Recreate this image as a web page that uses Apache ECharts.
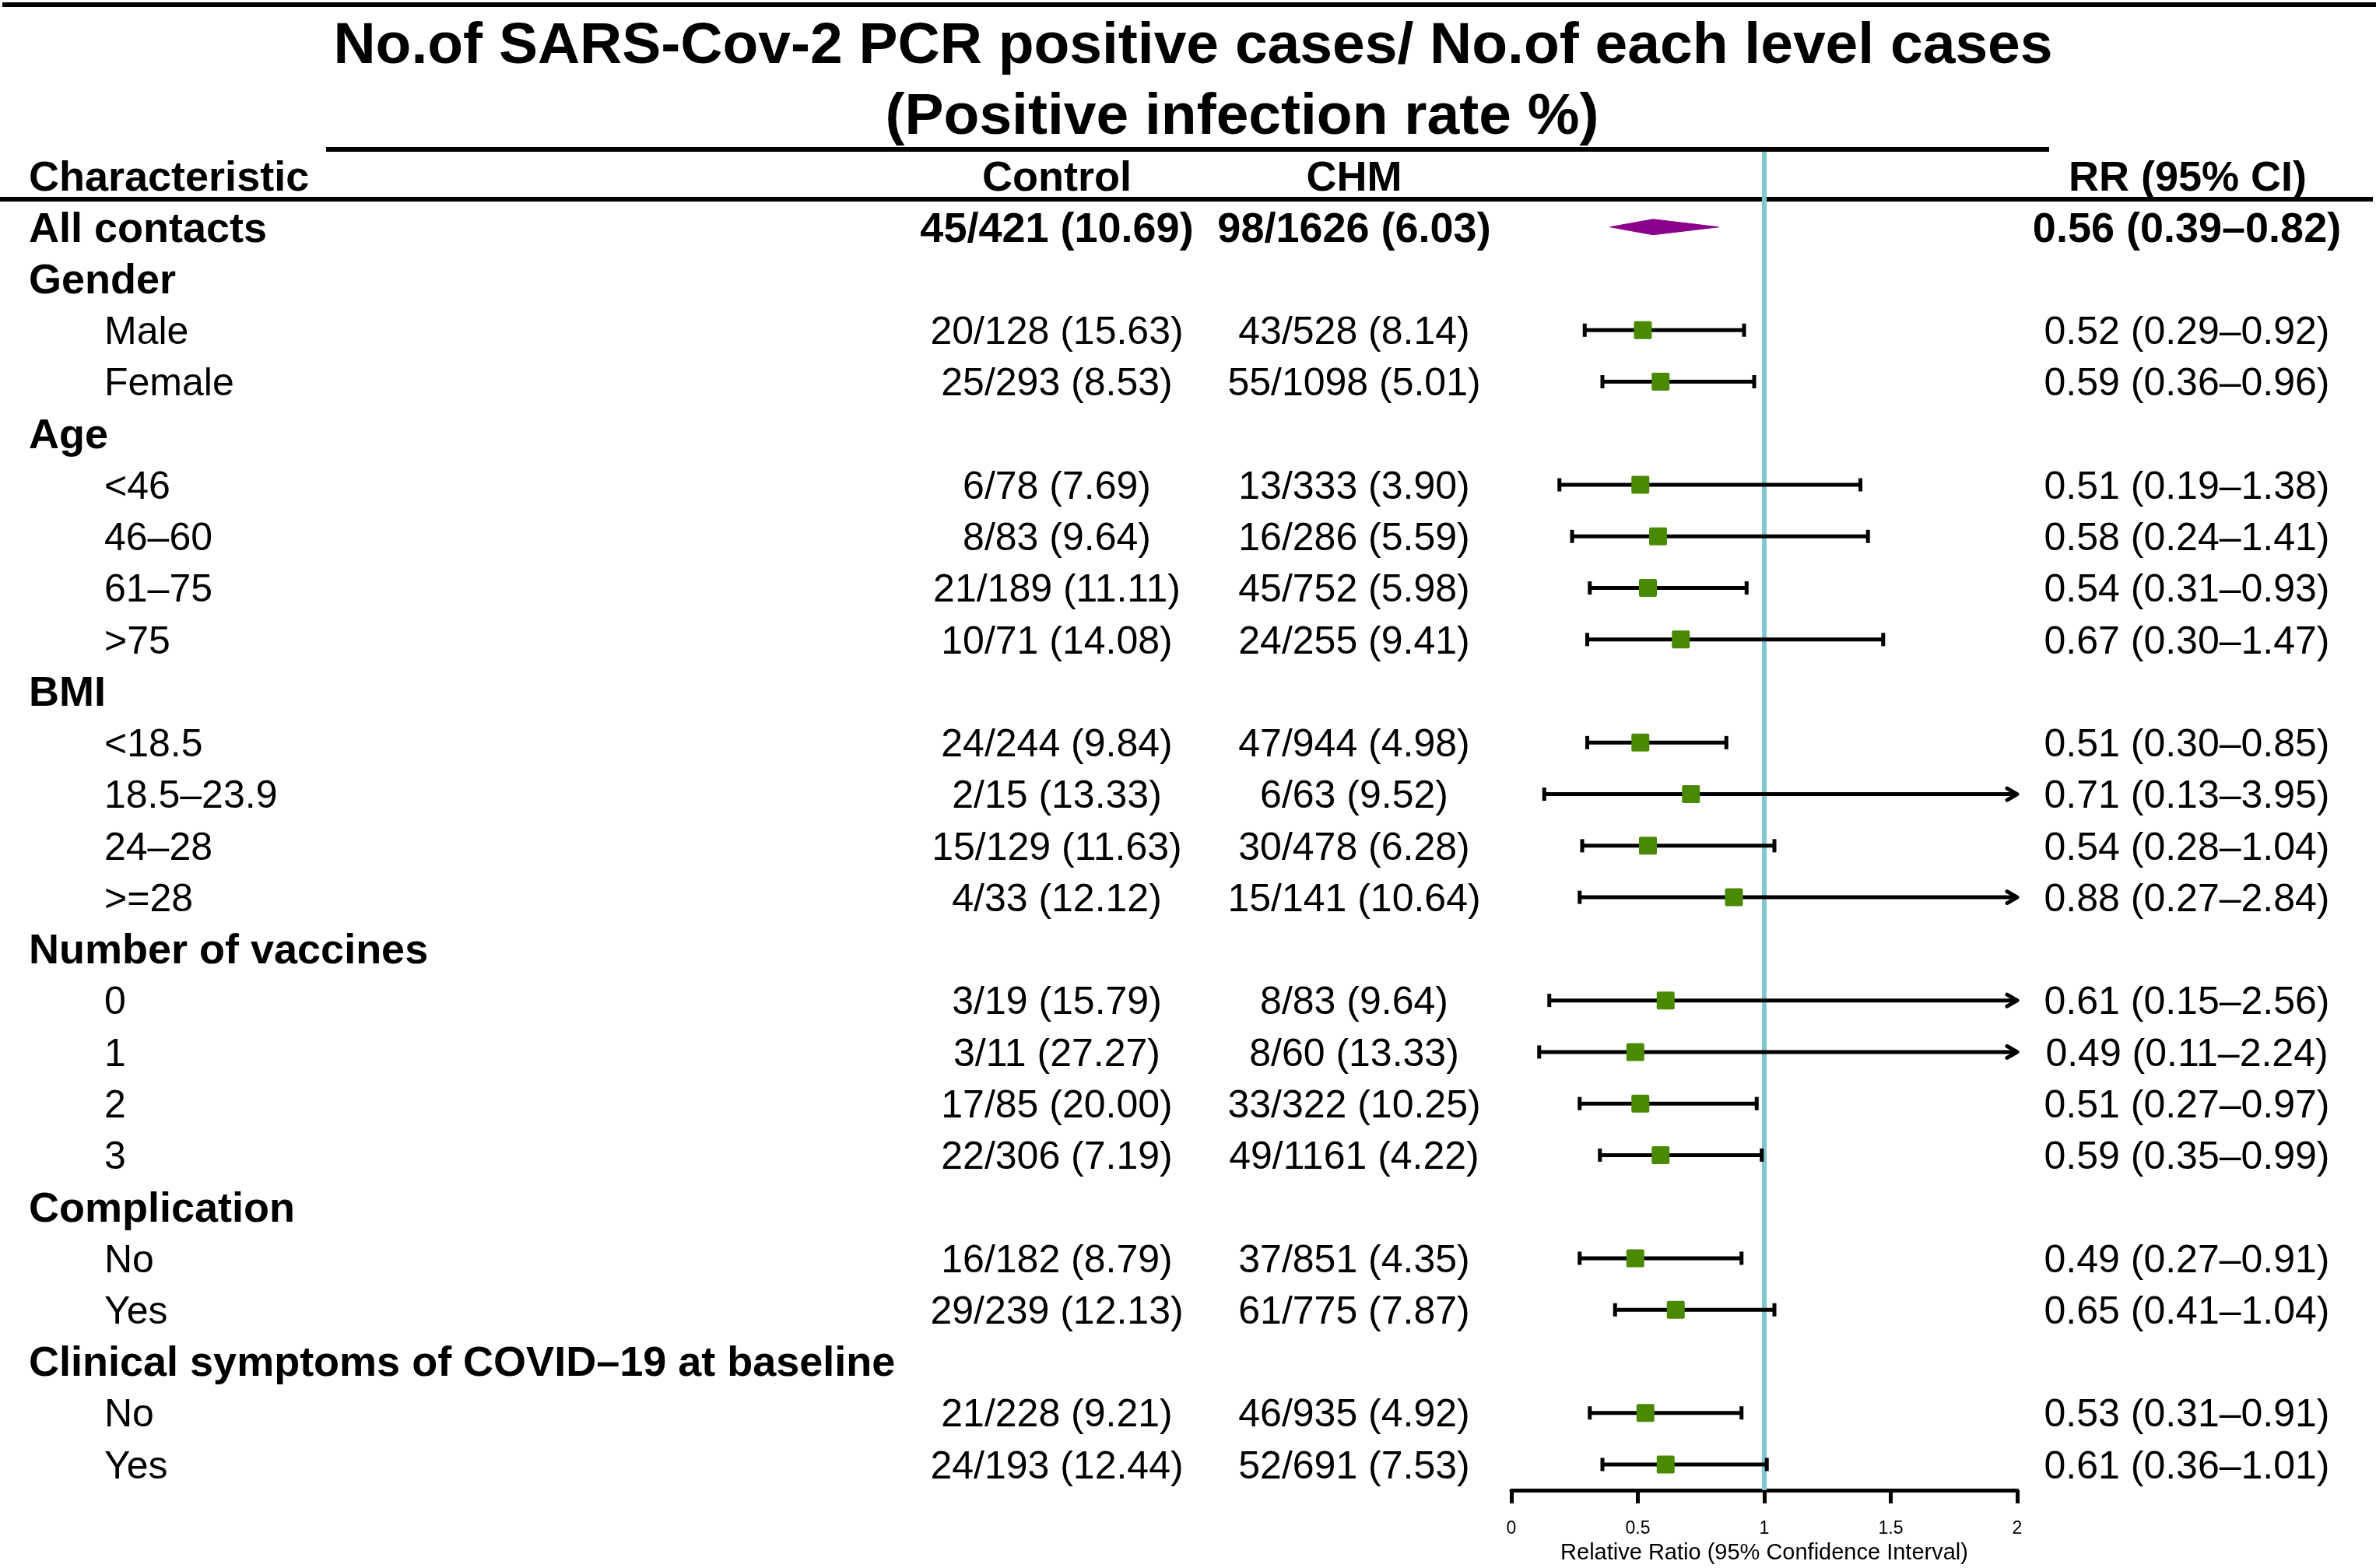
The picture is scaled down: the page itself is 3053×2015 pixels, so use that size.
<!DOCTYPE html>
<html>
<head>
<meta charset="utf-8">
<title>Forest plot</title>
<script src="https://cdn.jsdelivr.net/npm/echarts@6/dist/echarts.min.js"></script>
<style>
  html, body { margin: 0; padding: 0; background: #fff; }
  #chart { width: 3053px; height: 2015px; }
</style>
</head>
<body>
<div id="chart"></div>
<script>
// rows of the table, top to bottom
var characteristic = ['All contacts', 'Gender', 'Male', 'Female', 'Age', '<46', '46–60', '61–75', '>75',
    'BMI', '<18.5', '18.5–23.9', '24–28', '>=28', 'Number of vaccines', '0', '1', '2', '3',
    'Complication', 'No', 'Yes', 'Clinical symptoms of COVID–19 at baseline', 'No', 'Yes'];
var indented = [0, 0, 1, 1, 0, 1, 1, 1, 1, 0, 1, 1, 1, 1, 0, 1, 1, 1, 1, 0, 1, 1, 0, 1, 1];

// control group: positive / total (rate %)
var ctrlPos = [45, null, 20, 25, null, 6, 8, 21, 10, null, 24, 2, 15, 4, null, 3, 3, 17, 22, null, 16, 29, null, 21, 24];
var ctrlTotal = [421, null, 128, 293, null, 78, 83, 189, 71, null, 244, 15, 129, 33, null, 19, 11, 85, 306, null, 182, 239, null, 228, 193];
var ctrlRate = [10.69, null, 15.63, 8.53, null, 7.69, 9.64, 11.11, 14.08, null, 9.84, 13.33, 11.63, 12.12, null, 15.79, 27.27, 20.00, 7.19, null, 8.79, 12.13, null, 9.21, 12.44];

// CHM group
var chmPos = [98, null, 43, 55, null, 13, 16, 45, 24, null, 47, 6, 30, 15, null, 8, 8, 33, 49, null, 37, 61, null, 46, 52];
var chmTotal = [1626, null, 528, 1098, null, 333, 286, 752, 255, null, 944, 63, 478, 141, null, 83, 60, 322, 1161, null, 851, 775, null, 935, 691];
var chmRate = [6.03, null, 8.14, 5.01, null, 3.90, 5.59, 5.98, 9.41, null, 4.98, 9.52, 6.28, 10.64, null, 9.64, 13.33, 10.25, 4.22, null, 4.35, 7.87, null, 4.92, 7.53];

// relative ratio and 95% CI
var rr = [0.56, null, 0.52, 0.59, null, 0.51, 0.58, 0.54, 0.67, null, 0.51, 0.71, 0.54, 0.88, null, 0.61, 0.49, 0.51, 0.59, null, 0.49, 0.65, null, 0.53, 0.61];
var rrLow = [0.39, null, 0.29, 0.36, null, 0.19, 0.24, 0.31, 0.30, null, 0.30, 0.13, 0.28, 0.27, null, 0.15, 0.11, 0.27, 0.35, null, 0.27, 0.41, null, 0.31, 0.36];
var rrHigh = [0.82, null, 0.92, 0.96, null, 1.38, 1.41, 0.93, 1.47, null, 0.85, 3.95, 1.04, 2.84, null, 2.56, 2.24, 0.97, 0.99, null, 0.91, 1.04, null, 0.91, 1.01];

var xTicks = [0, 0.5, 1, 1.5, 2];
var xMax = 2;

var FONT = "'Liberation Sans', Arial, Helvetica, sans-serif";
var GREEN = '#4a8a02';
var PURPLE = '#8b008b';
var CYAN = '#80c7d0';
var TEXT_DY = 4; // canvas 'middle' sits a bit above cap centre

var chart = echarts.init(document.getElementById('chart'), null, {width: 3053, height: 2015});

function fmtCases(p, t, r) {
    return p == null ? '' : p + '/' + t + ' (' + r.toFixed(2) + ')';
}

function headText(text, x, y, align, size) {
    return {
        type: 'text',
        style: {text: text, x: x, y: y + TEXT_DY, align: align, verticalAlign: 'middle',
            fontSize: size, fontWeight: 'bold', fontFamily: FONT, fill: '#000'}
    };
}

// table text, one item per row
var tableData = characteristic.map(function (c, i) { return [0, i]; });
// forest marks only for rows that have an estimate
var forestData = [];
rr.forEach(function (v, i) {
    if (v != null) forestData.push([v, i, rrLow[i], rrHigh[i], i === 0 ? 1 : 0]);
});

function renderTable(params, api) {
    var i = api.value(1);
    var y = api.coord([0, i])[1] + TEXT_DY;
    var isBold = i === 0 || !indented[i];
    var size = isBold ? 54 : 50;
    var weight = isBold ? 'bold' : 'normal';
    var cells = [
        {x: indented[i] ? 134 : 37, align: 'left', text: characteristic[i]},
        {x: 1358, align: 'center', text: fmtCases(ctrlPos[i], ctrlTotal[i], ctrlRate[i])},
        {x: 1740, align: 'center', text: fmtCases(chmPos[i], chmTotal[i], chmRate[i])},
        {x: 2810, align: 'center', text: rr[i] == null ? '' : rr[i].toFixed(2) + ' (' + rrLow[i].toFixed(2) + '–' + rrHigh[i].toFixed(2) + ')'}
    ];
    return {
        type: 'group',
        children: cells.map(function (c) {
            return {
                type: 'text',
                style: {
                    text: c.text, x: c.x, y: y, align: c.align, verticalAlign: 'middle',
                    fontSize: size, fontWeight: weight, fontFamily: FONT, fill: '#000'
                }
            };
        })
    };
}

function renderForest(params, api) {
    var est = api.value(0), row = api.value(1), lo = api.value(2), hi = api.value(3);
    var pc = api.coord([est, row]);
    var pl = api.coord([lo, row]);
    var ph = api.coord([Math.min(hi, xMax), row]);
    var y = pc[1];
    if (api.value(4) === 1) {
        // summary diamond
        return {
            type: 'polygon',
            shape: {points: [[pl[0], y], [pc[0], y - 10], [ph[0], y], [pc[0], y + 10]]},
            style: {fill: PURPLE, stroke: PURPLE, lineWidth: 1}
        };
    }
    var line = {stroke: '#000', lineWidth: 5, lineCap: 'butt'};
    var children = [
        {type: 'line', shape: {x1: pl[0], y1: y, x2: ph[0], y2: y}, style: line},
        {type: 'line', shape: {x1: pl[0], y1: y - 8.5, x2: pl[0], y2: y + 8.5}, style: line}
    ];
    if (hi > xMax) {
        children.push({
            type: 'polyline',
            shape: {points: [[ph[0] - 13, y - 7.5], [ph[0], y], [ph[0] - 13, y + 7.5]]},
            style: {stroke: '#000', lineWidth: 5, fill: null, lineJoin: 'round', lineCap: 'round'}
        });
    } else {
        children.push({type: 'line', shape: {x1: ph[0], y1: y - 8.5, x2: ph[0], y2: y + 8.5}, style: line});
    }
    children.push({
        type: 'rect',
        shape: {x: pc[0] - 11.5, y: y - 11.5, width: 23, height: 23, r: 2},
        style: {fill: GREEN}
    });
    return {type: 'group', children: children};
}

var option = {
    animation: false,
    backgroundColor: '#fff',
    grid: {left: 1942, width: 650, top: 195, height: 1724},
    xAxis: {
        type: 'value',
        min: xTicks[0],
        max: xTicks[xTicks.length - 1],
        interval: 0.5,
        axisLine: {show: true, onZero: false, lineStyle: {color: '#000', width: 5}},
        axisTick: {show: true, length: 17, lineStyle: {color: '#000', width: 5}},
        axisLabel: {fontSize: 23, color: '#000', fontFamily: FONT, margin: 38},
        splitLine: {show: false},
        name: 'Relative Ratio (95% Confidence Interval)',
        nameLocation: 'middle',
        nameGap: 65,
        nameTextStyle: {fontSize: 29, color: '#000', fontFamily: FONT}
    },
    yAxis: {type: 'value', inverse: true, min: -1.46, max: 24.5, show: false},
    graphic: [
        {type: 'line', shape: {x1: 3, y1: 6, x2: 3053, y2: 6}, style: {stroke: '#000', lineWidth: 6}},
        headText('No.of SARS-Cov-2 PCR positive cases/ No.of each level cases', 1533, 56, 'center', 75),
        headText('(Positive infection rate %)', 1596, 147, 'center', 75),
        {type: 'line', shape: {x1: 419, y1: 192, x2: 2633, y2: 192}, style: {stroke: '#000', lineWidth: 6}},
        headText('Characteristic', 37, 226, 'left', 54),
        headText('Control', 1358, 226, 'center', 54),
        headText('CHM', 1740, 226, 'center', 54),
        headText('RR (95% CI)', 2811, 226, 'center', 54),
        {type: 'line', shape: {x1: 0, y1: 256, x2: 3049, y2: 256}, style: {stroke: '#000', lineWidth: 6}}
    ],
    series: [
        {
            type: 'custom',
            name: 'table',
            coordinateSystem: 'cartesian2d',
            clip: false,
            silent: true,
            renderItem: renderTable,
            data: tableData
        },
        {
            type: 'custom',
            name: 'forest',
            coordinateSystem: 'cartesian2d',
            clip: false,
            z: 3,
            renderItem: renderForest,
            data: forestData,
            markLine: {
                silent: true,
                symbol: 'none',
                z: 1,
                label: {show: false},
                lineStyle: {color: CYAN, width: 6, type: 'solid'},
                data: [{xAxis: 1}]
            }
        }
    ]
};

chart.setOption(option);
</script>
</body>
</html>
